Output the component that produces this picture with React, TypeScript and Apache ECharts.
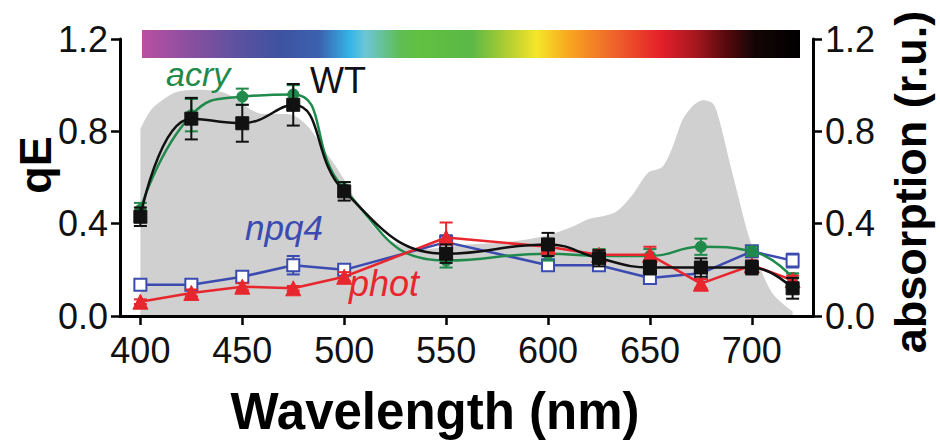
import React, { useEffect, useRef } from "react";
import * as echarts from "echarts";

// ---- data ----
const wavelengths = [400, 425, 450, 475, 500, 550, 600, 625, 650, 675, 700, 720];
const wtQE = [0.43, 0.855, 0.835, 0.915, 0.54, 0.27, 0.31, 0.25, 0.21, 0.21, 0.21, 0.12];
const wtErr = [0.04, 0.09, 0.08, 0.09, 0.04, 0.04, 0.05, 0.035, 0.03, 0.04, 0.03, 0.045];
const acryQE = [0.46, 0.87, 0.95, 0.96, 0.55, 0.24, 0.27, 0.26, 0.26, 0.3, 0.28, 0.165];
const acryErr = [0.03, 0.07, 0.035, 0.04, 0.03, 0.03, 0.03, 0.03, 0.03, 0.035, 0.02, 0.02];
const npq4QE = [0.135, 0.135, 0.17, 0.22, 0.2, 0.32, 0.22, 0.22, 0.165, 0.185, 0.28, 0.24];
const npq4Err = [0.015, 0.015, 0.02, 0.04, 0.015, 0.03, 0.015, 0.015, 0.02, 0.02, 0.02, 0.03];
const photQE = [0.062, 0.1, 0.127, 0.12, 0.17, 0.34, 0.3, 0.265, 0.265, 0.14, 0.22, 0.155];
const photErr = [0.01, 0.015, 0.015, 0.01, 0.02, 0.065, 0.02, 0.02, 0.035, 0.02, 0.02, 0.02];

const absWavelengths = [400, 405, 410, 415, 420, 430, 440, 445, 450, 455, 460, 470, 475, 480, 485, 490, 495, 500, 505, 510, 515, 520, 530, 540, 550, 560, 580, 600, 610, 615, 620, 633, 641, 649, 656, 661, 666, 671, 676, 681, 684, 689, 693, 698, 704, 710, 717, 720];
const absValues = [0.81, 0.89, 0.93, 0.96, 0.975, 0.98, 0.97, 0.95, 0.92, 0.89, 0.875, 0.875, 0.87, 0.84, 0.79, 0.72, 0.66, 0.59, 0.51, 0.44, 0.38, 0.34, 0.3, 0.29, 0.3, 0.31, 0.32, 0.35, 0.38, 0.4, 0.42, 0.45, 0.52, 0.62, 0.645, 0.73, 0.85, 0.91, 0.935, 0.92, 0.85, 0.67, 0.53, 0.36, 0.21, 0.1, 0.04, 0.02];

const xTicks = [400, 450, 500, 550, 600, 650, 700];

const FONT = "'Liberation Sans', Arial, Helvetica, sans-serif";
const GREEN = "#1f8a4c";
const BLACK = "#111111";
const BLUE = "#3b4bb0";
const RED = "#e8262e";

function errorSeries(name: string, values: number[], errs: number[], color: string, z: number) {
  return {
    type: "custom",
    name,
    yAxisIndex: 0,
    z,
    silent: true,
    data: wavelengths.map((w, i) => [w, values[i] - errs[i], values[i] + errs[i]]),
    encode: { x: 0, y: [1, 2] },
    renderItem: (params: any, api: any) => {
      const x = api.value(0);
      const lo = api.coord([x, api.value(1)]);
      const hi = api.coord([x, api.value(2)]);
      const hw = 6.5;
      const st = { stroke: color, lineWidth: 2 };
      return {
        type: "group",
        children: [
          { type: "line", shape: { x1: lo[0], y1: lo[1], x2: hi[0], y2: hi[1] }, style: st },
          { type: "line", shape: { x1: lo[0] - hw, y1: lo[1], x2: lo[0] + hw, y2: lo[1] }, style: st },
          { type: "line", shape: { x1: hi[0] - hw, y1: hi[1], x2: hi[0] + hw, y2: hi[1] }, style: st },
        ],
      };
    },
  };
}

function lineSeries(name: string, values: number[], color: string, symbol: string, size: number, smooth: any, z: number, hollow = false) {
  return {
    type: "line",
    name,
    yAxisIndex: 0,
    z,
    smooth,
    symbol,
    symbolSize: size,
    showSymbol: true,
    data: wavelengths.map((w, i) => [w, values[i]]),
    lineStyle: { color, width: 2.5 },
    itemStyle: hollow
      ? { color: "#ffffff", borderColor: color, borderWidth: 2 }
      : { color, borderColor: color, borderWidth: 1 },
  };
}

const axisLineStyle = { color: "#000", width: 3 };

export default function App() {
  const ref = useRef<HTMLDivElement>(null);
  useEffect(() => {
    if (!ref.current) return;
    const chart = echarts.init(ref.current, undefined, { renderer: "svg" });
    const yAxisBase = {
      type: "value",
      min: 0,
      max: 1.2,
      interval: 0.4,
      splitLine: { show: false },
      axisLine: { show: true, onZero: false, lineStyle: axisLineStyle },
      axisTick: { show: true, length: 9, lineStyle: { color: "#000", width: 2.5 } },
      axisLabel: {
        color: "#111",
        fontSize: 36,
        fontFamily: FONT,
        margin: 12,
        formatter: (v: number) => v.toFixed(1),
      },
    };
    chart.setOption({
      animation: false,
      backgroundColor: "#ffffff",
      grid: { left: 120, right: 127, top: 39, bottom: 130 },
      xAxis: {
        type: "value",
        min: 390,
        max: 730,
        splitLine: { show: false },
        axisLine: { show: true, onZero: false, lineStyle: axisLineStyle },
        axisTick: { show: true, length: 9, customValues: xTicks, lineStyle: { color: "#000", width: 2.5 } },
        axisLabel: { customValues: xTicks, color: "#111", fontSize: 36, fontFamily: FONT, margin: 16 },
      },
      yAxis: [
        { ...yAxisBase, position: "left" },
        { ...yAxisBase, position: "right" },
      ],
      series: [
        {
          type: "line",
          name: "absorption",
          yAxisIndex: 1,
          z: 0,
          smooth: 0.3,
          symbol: "none",
          silent: true,
          data: absWavelengths.map((w, i) => [w, absValues[i]]),
          lineStyle: { width: 0, color: "#d0d0d0" },
          areaStyle: { color: "#d0d0d0", opacity: 1 },
        },
        errorSeries("npq4 err", npq4QE, npq4Err, BLUE, 2),
        lineSeries("npq4", npq4QE, BLUE, "rect", 12, false, 3, true),
        errorSeries("acry err", acryQE, acryErr, GREEN, 4),
        lineSeries("acry", acryQE, GREEN, "circle", 11, 0.5, 5),
        errorSeries("phot err", photQE, photErr, RED, 6),
        lineSeries("phot", photQE, RED, "triangle", 15, false, 7),
        errorSeries("WT err", wtQE, wtErr, BLACK, 8),
        lineSeries("WT", wtQE, BLACK, "rect", 13, 0.45, 9),
      ],
      graphic: [
        {
          type: "rect",
          shape: { x: 142, y: 30, width: 658, height: 28 },
          style: {
            fill: new echarts.graphic.LinearGradient(0, 0, 1, 0, [
              { offset: 0, color: "#b94fa3" },
              { offset: 0.073, color: "#8a4f9f" },
              { offset: 0.149, color: "#5a52a0" },
              { offset: 0.21, color: "#3e52a0" },
              { offset: 0.27, color: "#3b62ae" },
              { offset: 0.316, color: "#34b4e8" },
              { offset: 0.339, color: "#6cc6d8" },
              { offset: 0.392, color: "#5fbd55" },
              { offset: 0.422, color: "#62c040" },
              { offset: 0.5, color: "#5ab847" },
              { offset: 0.56, color: "#b8d030" },
              { offset: 0.6, color: "#f5e629" },
              { offset: 0.65, color: "#f8a51f" },
              { offset: 0.711, color: "#f06a2a" },
              { offset: 0.787, color: "#e5202a" },
              { offset: 0.84, color: "#a8181f" },
              { offset: 0.886, color: "#5a0a0e" },
              { offset: 0.93, color: "#150505" },
              { offset: 1, color: "#000000" },
            ]),
          },
          z: 10,
        },
        {
          type: "text", x: 166, y: 74, z: 20,
          style: { text: "acry", fontSize: 34, fontStyle: "italic", fontFamily: FONT, fill: GREEN, align: "left", verticalAlign: "middle" },
        },
        {
          type: "text", x: 310, y: 80, z: 20,
          style: { text: "WT", fontSize: 36, fontFamily: FONT, fill: BLACK, align: "left", verticalAlign: "middle" },
        },
        {
          type: "text", x: 245, y: 227, z: 20,
          style: { text: "npq4", fontSize: 35, fontStyle: "italic", fontFamily: FONT, fill: BLUE, align: "left", verticalAlign: "middle" },
        },
        {
          type: "text", x: 349, y: 283, z: 20,
          style: { text: "phot", fontSize: 36, fontStyle: "italic", fontFamily: FONT, fill: RED, align: "left", verticalAlign: "middle" },
        },
        {
          type: "text", x: 435, y: 411, z: 20,
          style: { text: "Wavelength (nm)", fontSize: 51, fontWeight: "bold", fontFamily: FONT, fill: "#000", align: "center", verticalAlign: "middle" },
        },
        {
          type: "text", x: 35, y: 165, rotation: Math.PI / 2, z: 20,
          style: { text: "qE", fontSize: 45, fontWeight: "bold", fontFamily: FONT, fill: "#000", align: "center", verticalAlign: "middle" },
        },
        {
          type: "text", x: 910, y: 182, rotation: Math.PI / 2, z: 20,
          style: { text: "absorption (r.u.)", fontSize: 45, fontWeight: "bold", fontFamily: FONT, fill: "#000", align: "center", verticalAlign: "middle" },
        },
      ],
    });
    return () => chart.dispose();
  }, []);
  return (
    <div
      ref={ref}
      style={{ position: "fixed", left: 0, top: 0, width: 940, height: 446, background: "#fff" }}
    />
  );
}
